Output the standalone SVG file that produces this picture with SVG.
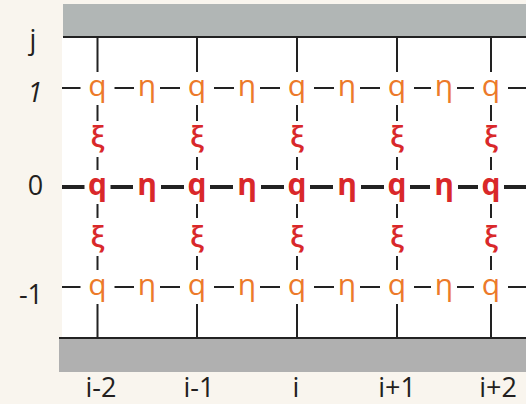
<svg xmlns="http://www.w3.org/2000/svg" width="526" height="404" viewBox="0 0 526 404">
<style>
.ln{stroke:#222;stroke-width:2;fill:none}
.bold{stroke:#222;stroke-width:4;fill:none}
.t{font-family:"Open Sans","Noto Sans",sans-serif;text-anchor:middle}
.o{fill:#ec7a2a;font-size:30px}
.r{fill:#d9282a;font-size:30px;font-weight:bold}
.x{fill:#d9282a;font-size:29px;font-weight:600}
.ax{fill:#231f20;font-size:27px}
</style>
<rect width="526" height="404" fill="#f9f5ee"/>
<rect x="62" y="37" width="464" height="302" fill="#ffffff"/>
<g id="top-wall">
<rect x="63" y="4" width="463" height="33" fill="#b1b6b5"/>
<line x1="63" y1="37" x2="526" y2="37" class="ln" stroke-width="2.5"/>
</g>
<g id="bottom-wall">
<rect x="59" y="338" width="467" height="34" fill="#b0b0b0"/>
<line x1="59" y1="338" x2="526" y2="338" class="ln" stroke-width="2.5"/>
</g>
<g id="connectors">
<path class="ln" d="M62 88H80.5M114.5 88H134M160 88H180M214 88H234M260 88H280M314 88H334M360 88H380M414 88H431M457 88H474M508 88H526"/>
<path class="bold" d="M62 187H84.5M110.5 187H133M161 187H184M210 187H233M261 187H284M310 187H333M361 187H384M410 187H430M458 187H478M504 187H526"/>
<path class="ln" d="M62 287H80.5M114.5 287H134M160 287H180M214 287H234M260 287H280M314 287H334M360 287H380M414 287H431M457 287H474M508 287H526"/>
<path class="ln" d="M97.5 38V72M97.5 105V121M97.5 157V170M97.5 204V218M97.5 256V270M97.5 304V338"/>
<path class="ln" d="M197 38V72M197 105V121M197 157V170M197 204V218M197 256V270M197 304V338"/>
<path class="ln" d="M297 38V72M297 105V121M297 157V170M297 204V218M297 256V270M297 304V338"/>
<path class="ln" d="M397 38V72M397 105V121M397 157V170M397 204V218M397 256V270M397 304V338"/>
<path class="ln" d="M491 38V72M491 105V121M491 157V170M491 204V218M491 256V270M491 304V338"/>
</g>
<g id="row1">
<text class="t o" x="97.5" y="96">q</text>
<text class="t o" x="147" y="96">η</text>
<text class="t o" x="197" y="96">q</text>
<text class="t o" x="247" y="96">η</text>
<text class="t o" x="297" y="96">q</text>
<text class="t o" x="347" y="96">η</text>
<text class="t o" x="397" y="96">q</text>
<text class="t o" x="444" y="96">η</text>
<text class="t o" x="491" y="96">q</text>
</g>
<g id="xi-upper">
<text class="t x" x="97.5" y="147">ξ</text>
<text class="t x" x="197" y="147">ξ</text>
<text class="t x" x="297" y="147">ξ</text>
<text class="t x" x="397" y="147">ξ</text>
<text class="t x" x="491" y="147">ξ</text>
</g>
<g id="row0">
<text class="t r" x="97.5" y="195">q</text>
<text class="t r" x="147" y="195">η</text>
<text class="t r" x="197" y="195">q</text>
<text class="t r" x="247" y="195">η</text>
<text class="t r" x="297" y="195">q</text>
<text class="t r" x="347" y="195">η</text>
<text class="t r" x="397" y="195">q</text>
<text class="t r" x="444" y="195">η</text>
<text class="t r" x="491" y="195">q</text>
</g>
<g id="xi-lower">
<text class="t x" x="97.5" y="247">ξ</text>
<text class="t x" x="197" y="247">ξ</text>
<text class="t x" x="297" y="247">ξ</text>
<text class="t x" x="397" y="247">ξ</text>
<text class="t x" x="491" y="247">ξ</text>
</g>
<g id="row-1">
<text class="t o" x="97.5" y="295">q</text>
<text class="t o" x="147" y="295">η</text>
<text class="t o" x="197" y="295">q</text>
<text class="t o" x="247" y="295">η</text>
<text class="t o" x="297" y="295">q</text>
<text class="t o" x="347" y="295">η</text>
<text class="t o" x="397" y="295">q</text>
<text class="t o" x="444" y="295">η</text>
<text class="t o" x="491" y="295">q</text>
</g>
<g id="axis-j">
<text class="t ax" x="33" y="49">j</text>
<text class="t ax" x="35" y="102" font-style="italic">1</text>
<text class="t ax" x="35.5" y="195">0</text>
<text class="t ax" x="31" y="304">-1</text>
</g>
<g id="axis-i">
<text class="t ax" x="101" y="397">i-2</text>
<text class="t ax" x="199" y="397">i-1</text>
<text class="t ax" x="296" y="397">i</text>
<text class="t ax" x="397" y="397">i+1</text>
<text class="t ax" x="498" y="397">i+2</text>
</g>
</svg>
